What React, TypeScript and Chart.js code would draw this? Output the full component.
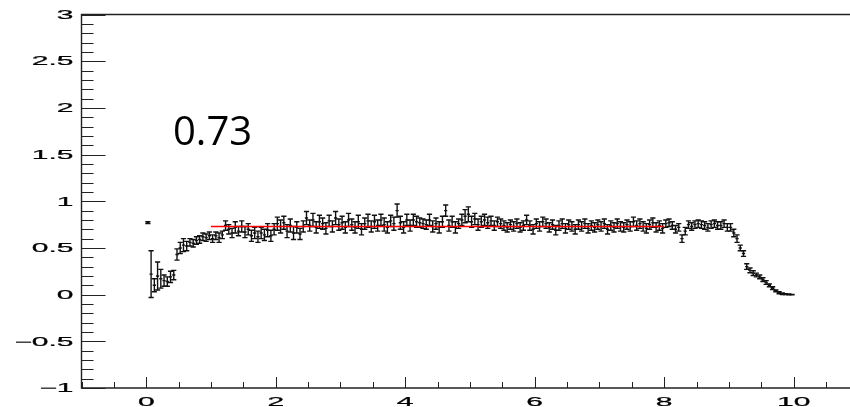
import React, { useEffect, useRef } from "react";
import { Chart, registerables } from "chart.js";

Chart.register(...registerables);

// Histogram binning
const binLow = 0;
const binWidth = 0.05;

// Bin contents (ratio), bins 0.00-0.05 ... 9.95-10.00
const values = [
  0.77, 0.22, 0.10, 0.20, 0.17, 0.15, 0.14, 0.19, 0.21, 0.43,
  0.50, 0.53, 0.52, 0.56, 0.55, 0.58, 0.59, 0.62, 0.61, 0.63,
  0.60, 0.63, 0.61, 0.64, 0.74, 0.70, 0.66, 0.72, 0.68, 0.73,
  0.67, 0.70, 0.63, 0.66, 0.62, 0.66, 0.64, 0.69, 0.63, 0.70,
  0.76, 0.73, 0.77, 0.68, 0.74, 0.66, 0.72, 0.65, 0.73, 0.82,
  0.74, 0.80, 0.72, 0.78, 0.76, 0.71, 0.79, 0.73, 0.82, 0.75,
  0.77, 0.72, 0.80, 0.75, 0.72, 0.78, 0.70, 0.76, 0.79, 0.73,
  0.78, 0.74, 0.80, 0.75, 0.72, 0.79, 0.76, 0.90, 0.77, 0.72,
  0.80, 0.74, 0.80, 0.78, 0.77, 0.76, 0.75, 0.80, 0.73, 0.76,
  0.72, 0.78, 0.90, 0.74, 0.78, 0.72, 0.76, 0.80, 0.84, 0.86,
  0.78, 0.81, 0.75, 0.78, 0.80, 0.77, 0.79, 0.74, 0.78, 0.76,
  0.74, 0.72, 0.75, 0.73, 0.76, 0.72, 0.74, 0.80, 0.74, 0.70,
  0.76, 0.73, 0.78, 0.76, 0.72, 0.75, 0.69, 0.74, 0.76, 0.71,
  0.75, 0.73, 0.70, 0.75, 0.73, 0.76, 0.71, 0.74, 0.72, 0.75,
  0.73, 0.76, 0.70, 0.74, 0.72, 0.76, 0.73, 0.72, 0.75, 0.73,
  0.78, 0.74, 0.76, 0.73, 0.71, 0.75, 0.77, 0.72, 0.74, 0.71,
  0.76, 0.77, 0.74, 0.70, 0.72, 0.60, 0.68, 0.75, 0.73, 0.75,
  0.76, 0.75, 0.74, 0.72, 0.75, 0.76, 0.74, 0.74, 0.76, 0.72,
  0.72, 0.66, 0.60, 0.50, 0.44, 0.30, 0.26, 0.23, 0.21, 0.19,
  0.16, 0.13, 0.10, 0.07, 0.04, 0.02, 0.01, 0.005, 0.002, 0.0,
];

// Bin errors
const errors = [
  0.01, 0.25, 0.07, 0.15, 0.10, 0.06, 0.05, 0.06, 0.05, 0.06,
  0.06, 0.07, 0.05, 0.04, 0.04, 0.04, 0.04, 0.04, 0.04, 0.04,
  0.04, 0.04, 0.05, 0.04, 0.05, 0.05, 0.05, 0.06, 0.05, 0.06,
  0.06, 0.06, 0.06, 0.06, 0.06, 0.06, 0.06, 0.07, 0.06, 0.06,
  0.07, 0.07, 0.07, 0.07, 0.07, 0.07, 0.06, 0.06, 0.06, 0.07,
  0.06, 0.07, 0.06, 0.07, 0.06, 0.06, 0.06, 0.06, 0.07, 0.06,
  0.07, 0.06, 0.07, 0.06, 0.06, 0.07, 0.06, 0.06, 0.07, 0.06,
  0.07, 0.06, 0.06, 0.07, 0.06, 0.06, 0.07, 0.07, 0.07, 0.06,
  0.06, 0.06, 0.06, 0.06, 0.05, 0.05, 0.05, 0.06, 0.06, 0.06,
  0.06, 0.06, 0.06, 0.06, 0.06, 0.06, 0.05, 0.06, 0.07, 0.08,
  0.06, 0.06, 0.06, 0.06, 0.06, 0.06, 0.05, 0.05, 0.05, 0.05,
  0.05, 0.05, 0.05, 0.05, 0.05, 0.05, 0.05, 0.05, 0.05, 0.05,
  0.05, 0.05, 0.05, 0.05, 0.05, 0.05, 0.05, 0.05, 0.05, 0.05,
  0.05, 0.05, 0.05, 0.05, 0.05, 0.05, 0.05, 0.05, 0.05, 0.05,
  0.05, 0.05, 0.05, 0.05, 0.05, 0.05, 0.05, 0.05, 0.05, 0.05,
  0.05, 0.05, 0.05, 0.05, 0.05, 0.05, 0.05, 0.05, 0.05, 0.05,
  0.04, 0.04, 0.04, 0.04, 0.04, 0.04, 0.04, 0.04, 0.04, 0.04,
  0.04, 0.04, 0.04, 0.04, 0.04, 0.04, 0.04, 0.04, 0.04, 0.04,
  0.04, 0.04, 0.04, 0.03, 0.03, 0.03, 0.025, 0.025, 0.02, 0.02,
  0.02, 0.02, 0.015, 0.015, 0.01, 0.01, 0.008, 0.005, 0.004, 0.003,
];

// Fit (constant) line
const fitValue = 0.73;
const fitFrom = 1.0;
const fitTo = 8.0;
const fitLabel = "0.73";

// Axes
const xMin = -1;
const xMax = 10.87;
const yMin = -1;
const yMax = 3;
const xMajorTicks = [0, 2, 4, 6, 8, 10];
const xMajorLabels = ["0", "2", "4", "6", "8", "10"];
const xMinorStep = 0.5;
const yMajorTicks = [-1, -0.5, 0, 0.5, 1, 1.5, 2, 2.5, 3];
const yMajorLabels = ["\u22121", "\u22120.5", "0", "0.5", "1", "1.5", "2", "2.5", "3"];
const yMinorStep = 0.1;

const LABEL_FONT = '30px "Liberation Sans", Arial, sans-serif';
const SQUISH = 0.4;

function drawSquished(
  ctx: CanvasRenderingContext2D,
  text: string,
  x: number,
  baseline: number,
  align: CanvasTextAlign
) {
  ctx.save();
  ctx.translate(x, baseline);
  ctx.scale(1, SQUISH);
  ctx.font = LABEL_FONT;
  ctx.textAlign = align;
  ctx.textBaseline = "alphabetic";
  ctx.fillStyle = "#000";
  ctx.strokeStyle = "#000";
  ctx.lineWidth = 0.6;
  ctx.fillText(text, 0, 0);
  ctx.strokeText(text, 0, 0);
  ctx.restore();
}

const rootPlugin = {
  id: "rootStyle",
  beforeDatasetsDraw(chart: any) {
    const ctx: CanvasRenderingContext2D = chart.ctx;
    const xs = chart.scales.x;
    const ys = chart.scales.y;
    const area = chart.chartArea;
    ctx.save();
    ctx.beginPath();
    ctx.rect(area.left, area.top, area.right - area.left, area.bottom - area.top);
    ctx.clip();
    ctx.strokeStyle = "#111";
    ctx.lineWidth = 1.4;
    values.forEach((v, i) => {
      const xc = binLow + (i + 0.5) * binWidth;
      const px = xs.getPixelForValue(xc);
      const pl = xs.getPixelForValue(xc - binWidth / 2);
      const pr = xs.getPixelForValue(xc + binWidth / 2);
      const py = ys.getPixelForValue(v);
      const pt = ys.getPixelForValue(v + errors[i]);
      const pb = ys.getPixelForValue(v - errors[i]);
      const cap = 2.6;
      ctx.beginPath();
      ctx.moveTo(px, pt);
      ctx.lineTo(px, pb);
      ctx.moveTo(pl, py);
      ctx.lineTo(pr, py);
      ctx.moveTo(px - cap, pt);
      ctx.lineTo(px + cap, pt);
      ctx.moveTo(px - cap, pb);
      ctx.lineTo(px + cap, pb);
      ctx.stroke();
    });
    ctx.restore();
  },
  afterDraw(chart: any) {
    const ctx: CanvasRenderingContext2D = chart.ctx;
    const xs = chart.scales.x;
    const ys = chart.scales.y;
    const { left, right, top, bottom } = chart.chartArea;
    ctx.save();
    ctx.strokeStyle = "#222";
    ctx.lineWidth = 1.4;
    // frame
    ctx.beginPath();
    ctx.moveTo(right + 2, top);
    ctx.lineTo(left, top);
    ctx.lineTo(left, bottom);
    ctx.lineTo(right + 2, bottom);
    ctx.stroke();

    ctx.lineWidth = 1;
    // y ticks (inward)
    const nYMinor = Math.round((yMax - yMin) / yMinorStep);
    for (let k = 0; k <= nYMinor; k++) {
      const v = yMin + k * yMinorStep;
      const major = yMajorTicks.some((t) => Math.abs(t - v) < 1e-6);
      const py = Math.round(ys.getPixelForValue(v)) + 0.5;
      ctx.beginPath();
      ctx.moveTo(left, py);
      ctx.lineTo(left + (major ? 24 : 12), py);
      ctx.stroke();
    }
    // x ticks (inward)
    const nXMinor = Math.floor((xMax - xMin) / xMinorStep + 1e-6);
    for (let k = 0; k <= nXMinor; k++) {
      const v = xMin + k * xMinorStep;
      const major = xMajorTicks.some((t) => Math.abs(t - v) < 1e-6);
      const px = Math.round(xs.getPixelForValue(v)) + 0.5;
      ctx.beginPath();
      ctx.moveTo(px, bottom);
      ctx.lineTo(px, bottom - (major ? 11 : 6));
      ctx.stroke();
    }
    ctx.restore();

    // labels
    const digitHalf = 0.358 * 30 * SQUISH;
    yMajorTicks.forEach((t, i) => {
      const py = ys.getPixelForValue(t);
      drawSquished(ctx, yMajorLabels[i], left - 8, py + digitHalf, "right");
    });
    xMajorTicks.forEach((t, i) => {
      const px = xs.getPixelForValue(t);
      drawSquished(ctx, xMajorLabels[i], px, bottom + 17.5, "center");
    });

    // fit value annotation
    ctx.save();
    ctx.font = '40px "Open Sans", "Liberation Sans", sans-serif';
    ctx.fillStyle = "#000";
    ctx.textAlign = "left";
    ctx.textBaseline = "alphabetic";
    ctx.fillText(fitLabel, 173, 145);
    ctx.restore();
  },
};

export default function App() {
  const canvasRef = useRef<HTMLCanvasElement | null>(null);

  useEffect(() => {
    if (!canvasRef.current) return;
    const histPoints = values.map((v, i) => ({ x: binLow + (i + 0.5) * binWidth, y: v }));
    const chart = new Chart(canvasRef.current, {
      type: "scatter",
      data: {
        datasets: [
          {
            label: "ratio",
            data: histPoints,
            pointRadius: 0,
            showLine: false,
            borderColor: "#000",
            backgroundColor: "#000",
          },
          {
            label: "fit",
            type: "line",
            data: [
              { x: fitFrom, y: fitValue },
              { x: fitTo, y: fitValue },
            ],
            borderColor: "#ff0000",
            borderWidth: 1.6,
            pointRadius: 0,
            fill: false,
          } as any,
        ],
      },
      options: {
        responsive: false,
        animation: false,
        events: [],
        layout: { padding: { left: 81.5, right: 0, top: 14.5, bottom: 19 } },
        plugins: {
          legend: { display: false },
          tooltip: { enabled: false },
          title: { display: false },
        },
        scales: {
          x: { type: "linear", min: xMin, max: xMax, display: false },
          y: { type: "linear", min: yMin, max: yMax, display: false },
        },
      },
      plugins: [rootPlugin],
    });
    return () => chart.destroy();
  }, []);

  return (
    <div style={{ position: "absolute", left: 0, top: 0, width: 850, height: 407, background: "#fff" }}>
      <canvas ref={canvasRef} width={850} height={407} />
    </div>
  );
}
